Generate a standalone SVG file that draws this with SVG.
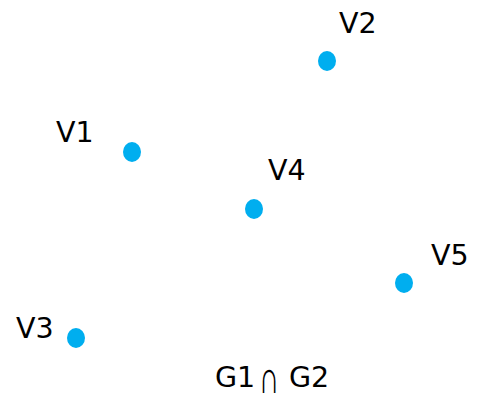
<svg xmlns="http://www.w3.org/2000/svg" width="477" height="400" viewBox="0 0 477 400">
<style>
.dot{fill:#00AEEF}
.lbl{font-family:"DejaVu Sans",Verdana,sans-serif;font-size:28.5px;fill:#000}
.cap{font-family:"DejaVu Sans","Noto Sans",sans-serif;font-size:46px;font-weight:200;fill:#000}
</style>
<rect width="477" height="400" fill="#fff"/>
<g id="connectors"></g>
<g id="V1"><ellipse class="dot" cx="132" cy="152" rx="9" ry="10"/><text class="lbl" x="56" y="142">V1</text></g>
<g id="V2"><ellipse class="dot" cx="327" cy="61" rx="9" ry="10"/><text class="lbl" x="339" y="33">V2</text></g>
<g id="V3"><ellipse class="dot" cx="76" cy="338" rx="9" ry="10"/><text class="lbl" x="16" y="338">V3</text></g>
<g id="V4"><ellipse class="dot" cx="254" cy="209" rx="9" ry="10"/><text class="lbl" x="268" y="180">V4</text></g>
<g id="V5"><ellipse class="dot" cx="404" cy="283" rx="9" ry="10"/><text class="lbl" x="431" y="265">V5</text></g>
<g id="title">
<text class="lbl" x="215" y="387">G1</text>
<text class="cap" transform="translate(259 393) scale(0.62 1)" x="0" y="0">∩</text>
<text class="lbl" x="289" y="387">G2</text>
</g>
</svg>
